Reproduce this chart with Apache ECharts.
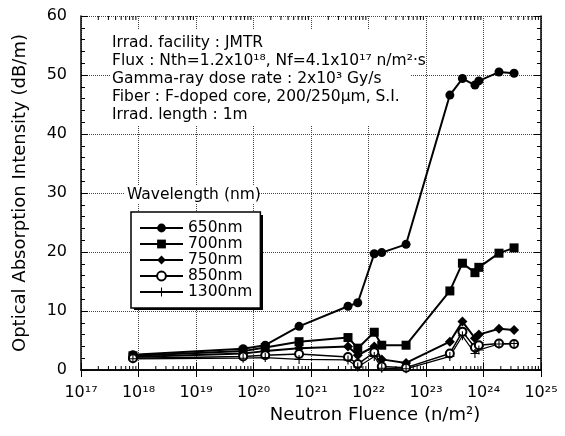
<!DOCTYPE html>
<html>
<head>
<meta charset="utf-8">
<script src="https://cdn.jsdelivr.net/npm/echarts@6/dist/echarts.min.js"></script>
<style>
  html, body { margin: 0; padding: 0; background: #fff; }
  #chart { width: 565px; height: 436px; }
</style>
</head>
<body>
<div id="chart"></div>
<script>
// neutron fluence (n/m2) of each measurement
const fluence = [8e17, 6.6e19, 1.6e20, 6.2e20, 4.4e21, 6.5e21, 1.26e22, 1.7e22, 4.5e22,
                 2.6e23, 4.3e23, 7.1e23, 8.3e23, 1.86e24, 3.4e24];
// optical absorption (dB/m) per wavelength
const loss650 = [2.6, 3.6, 4.2, 7.4, 10.8, 11.4, 19.7, 19.9, 21.3, 46.6, 49.4, 48.3, 49.0, 50.5, 50.3];
const loss700 = [2.4, 3.2, 3.8, 4.8, 5.5, 3.7, 6.4, 4.2, 4.2, 13.4, 18.1, 16.5, 17.4, 19.8, 20.7];
const loss750 = [2.2, 2.8, 3.2, 3.7, 4.0, 2.5, 4.0, 1.8, 1.2, 4.8, 8.2, 5.4, 6.0, 7.0, 6.8];
const loss850 = [2.0, 2.3, 2.5, 2.7, 2.2, 1.0, 3.0, 0.6, 0.4, 2.8, 6.5, 3.8, 4.2, 4.5, 4.4];
const loss1300 = [1.9, 2.0, 2.1, 1.8, 1.7, 0.5, 2.3, 0.3, 0.2, 2.3, 5.8, 2.8, 3.4, 4.4, 4.5];

const seriesNames = ['650nm', '700nm', '750nm', '850nm', '1300nm'];
// x axis decades 10^17 .. 10^25
const decades = [17, 18, 19, 20, 21, 22, 23, 24, 25];
const minorMult = [2, 3, 4, 5, 6, 7, 8, 9];
const notes = [
  'Irrad. facility : JMTR',
  'Flux : Nth=1.2x10¹⁸, Nf=4.1x10¹⁷ n/m²·s',
  'Gamma-ray dose rate : 2x10³ Gy/s',
  'Fiber : F-doped core, 200/250μm, S.I.',
  'Irrad. length : 1m'
];

const FONT = 'DejaVu Sans';
const sup = { '0': '⁰', '1': '¹', '2': '²', '3': '³', '4': '⁴', '5': '⁵', '6': '⁶', '7': '⁷', '8': '⁸', '9': '⁹' };

const minorTicks = [];
decades.slice(0, -1).forEach(function (d) {
  minorMult.forEach(function (m) { minorTicks.push([m * Math.pow(10, d), 0]); });
});

function pairs(vals) {
  return fluence.map(function (f, i) { return [f, vals[i]]; });
}

const plusPath = 'path://M4.4,0h1.2v4.4h4.4v1.2h-4.4v4.4h-1.2v-4.4h-4.4v-1.2h4.4z';

function lineSeries(name, vals, symbol, size, width) {
  return {
    name: name,
    type: 'line',
    data: pairs(vals),
    symbol: symbol,
    symbolSize: size,
    showSymbol: true,
    lineStyle: { color: '#000', width: width },
    itemStyle: { color: '#000', borderWidth: 1 },
    z: 3,
    animation: false
  };
}

var myChart = echarts.init(document.getElementById('chart'));
myChart.setOption({
  animation: false,
  textStyle: { fontFamily: FONT },
  grid: { left: 81, right: 24, top: 16, bottom: 66 },
  xAxis: [
    {
      type: 'log',
      logBase: 10,
      min: 1e17,
      max: 1e25,
      interval: 1,
      name: 'Neutron Fluence (n/m²)',
      nameLocation: 'middle',
      nameGap: 36,
      nameTextStyle: { fontFamily: FONT, fontSize: 18, color: '#000', padding: [0, 0, 0, 128] },
      axisLine: { show: true, lineStyle: { color: '#000', width: 1.5 } },
      axisTick: { inside: true, length: 7, lineStyle: { color: '#000' } },
      axisLabel: {
        margin: 15,
        fontFamily: FONT,
        fontSize: 16,
        color: '#000',
        formatter: function (v) {
          var e = String(Math.round(Math.log10(v)));
          return '10' + e.split('').map(function (c) { return sup[c]; }).join('');
        }
      },
      splitLine: { show: true, lineStyle: { color: '#444', type: 'dotted', width: 1 } }
    },
    {
      type: 'log',
      logBase: 10,
      min: 1e17,
      max: 1e25,
      interval: 1,
      position: 'top',
      axisLine: { show: true, lineStyle: { color: '#000', width: 1.5 } },
      axisTick: { inside: true, length: 7, lineStyle: { color: '#000' } },
      axisLabel: { show: false },
      splitLine: { show: false }
    }
  ],
  yAxis: [
    {
      type: 'value',
      min: 0,
      max: 60,
      interval: 10,
      name: 'Optical Absorption Intensity (dB/m)',
      nameLocation: 'middle',
      nameGap: 52,
      nameTextStyle: { fontFamily: FONT, fontSize: 18, color: '#000' },
      axisLine: { show: true, lineStyle: { color: '#000', width: 1.5 } },
      axisTick: { inside: true, length: 7, lineStyle: { color: '#000' } },
      minorTick: { show: true, splitNumber: 5, length: 4, lineStyle: { color: '#000' } },
      axisLabel: { margin: 14, fontFamily: FONT, fontSize: 16, color: '#000' },
      splitLine: { show: true, lineStyle: { color: '#444', type: 'dotted', width: 1 } }
    },
    {
      type: 'value',
      min: 0,
      max: 60,
      interval: 10,
      position: 'right',
      axisLine: { show: true, lineStyle: { color: '#000', width: 1.5 } },
      axisTick: { inside: true, length: 7, lineStyle: { color: '#000' } },
      minorTick: { show: true, splitNumber: 5, length: 4, lineStyle: { color: '#000' } },
      axisLabel: { show: false },
      splitLine: { show: false }
    }
  ],
  legend: {
    data: seriesNames,
    orient: 'vertical',
    left: 131,
    top: 212,
    padding: [8, 8, 8, 8],
    itemWidth: 43,
    itemHeight: 11,
    itemGap: 0,
    textStyle: { fontFamily: FONT, fontSize: 15.5, color: '#000' },
    backgroundColor: '#fff',
    borderColor: '#000',
    borderWidth: 1.5,
    borderRadius: 0,
    selectedMode: false,
    z: 8
  },
  graphic: [
    { type: 'rect', left: 110, top: 30, shape: { width: 300, height: 96 }, style: { fill: '#fff' }, z: 5 },
    {
      type: 'text', left: 112, top: 34, z: 6,
      style: { text: notes.join('\n'), fontFamily: FONT, fontSize: 15.5, lineHeight: 18, fill: '#000' }
    },
    { type: 'rect', left: 124, top: 186, shape: { width: 134, height: 18 }, style: { fill: '#fff' }, z: 5 },
    {
      type: 'text', left: 127, top: 186, z: 6,
      style: { text: 'Wavelength (nm)', fontFamily: FONT, fontSize: 15.5, lineHeight: 18, fill: '#000' }
    },
    // drop shadow behind the legend box
    { type: 'rect', left: 134, top: 215, shape: { width: 129, height: 95 }, style: { fill: '#000' }, z: 4 }
  ],
  series: [
    lineSeries('650nm', loss650, 'circle', 9, 2),
    lineSeries('700nm', loss700, 'rect', 9, 2),
    lineSeries('750nm', loss750, 'diamond', 10, 2),
    lineSeries('850nm', loss850, 'emptyCircle', 8, 1.5),
    lineSeries('1300nm', loss1300, plusPath, 9, 1.2),
    {
      // log-spaced minor ticks on the bottom and top frame
      type: 'custom',
      data: minorTicks,
      silent: true,
      z: 1,
      renderItem: function (params, api) {
        var b = api.coord([api.value(0), 0]);
        var t = api.coord([api.value(0), 60]);
        return {
          type: 'group',
          children: [
            { type: 'line', shape: { x1: b[0], y1: b[1], x2: b[0], y2: b[1] - 4 }, style: { stroke: '#000', lineWidth: 1 } },
            { type: 'line', shape: { x1: t[0], y1: t[1], x2: t[0], y2: t[1] + 4 }, style: { stroke: '#000', lineWidth: 1 } }
          ]
        };
      }
    }
  ]
});
</script>
</body>
</html>
